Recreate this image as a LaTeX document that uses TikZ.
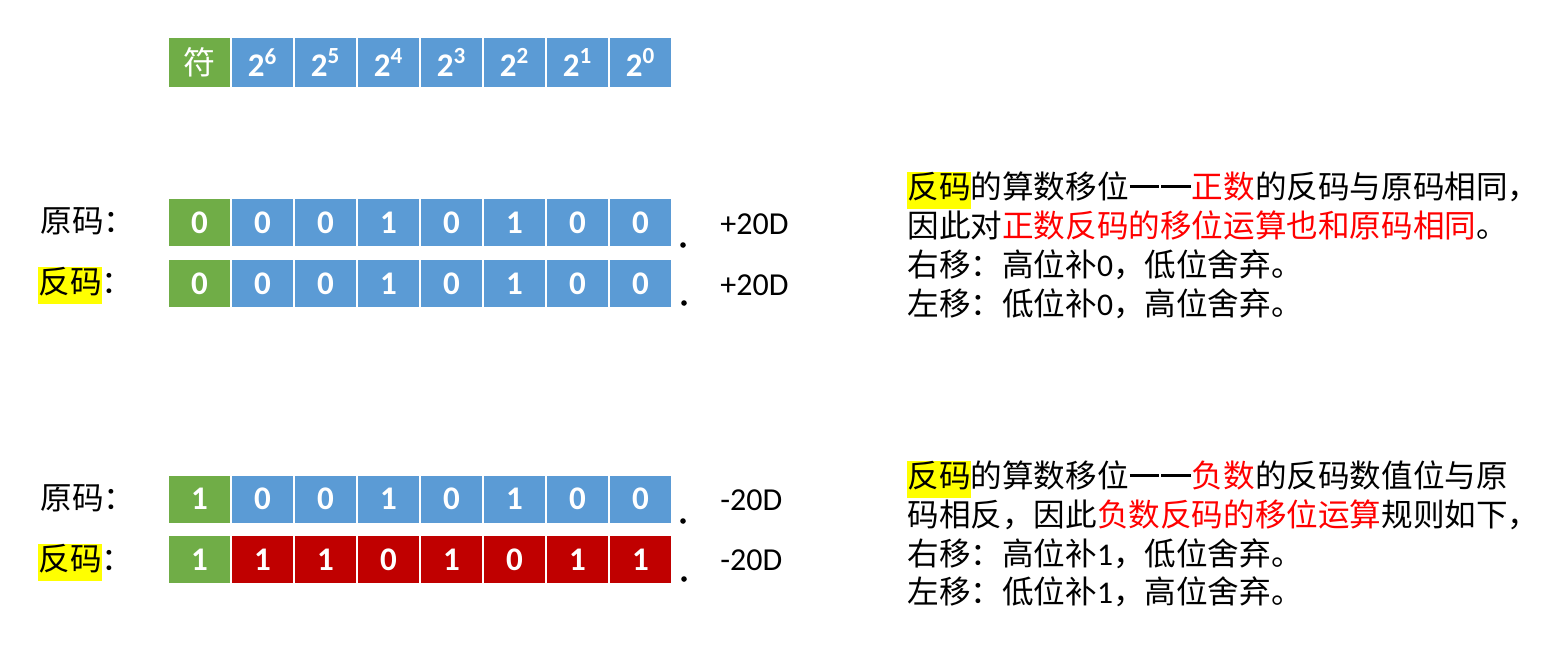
\documentclass[tikz,border=0pt]{standalone}
\usepackage{fontspec}
\setmainfont{Carlito}
\newfontfamily\cjk{Noto Sans CJK SC}
\definecolor{cgreen}{HTML}{70AD47}
\definecolor{cblue}{HTML}{5B9BD5}
\definecolor{cred}{HTML}{C00000}
\definecolor{hl}{HTML}{FFFF00}
\definecolor{tred}{HTML}{FF0000}
\setlength{\fboxsep}{0pt}
\newcommand\mybitrow[5]{%
  \node[cell,fill=cgreen] (#1-0) at (199.5,#2) {#4};
  \foreach \b [count=\i] in {#5} \node[cell,fill=#3] (#1-\i) at (199.5+63*\i,#2) {\b};
}
\newcommand\mydash{\makebox[1em][c]{\rule[0.32em]{0.92em}{0.09em}}}
\begin{document}
\begin{tikzpicture}[x=0.5pt,y=-0.5pt,
  cell/.style={minimum width=30.5pt,minimum height=23.5pt,inner sep=0pt,text=white,font=\fontsize{16.5}{18}\selectfont\bfseries},
  hcell/.style={cell,minimum height=24.5pt},
  lbl/.style={anchor=base west,inner sep=0pt,font=\cjk\fontsize{15.8}{18.6}\selectfont},
  txt/.style={anchor=base west,inner sep=0pt,font=\cjk\fontsize{15.8}{18.6}\selectfont},
  val/.style={anchor=west,inner sep=0pt,font=\fontsize{16}{18}\selectfont},
  dotn/.style={circle,fill=black,inner sep=0pt,minimum size=2.8pt}]
\useasboundingbox (0,0) rectangle (1546,644);
% header
\node[hcell,fill=cgreen,font=\cjk\fontsize{16}{18}\selectfont] (h0) at (199.5,62.5) {符};
\foreach \e [count=\i] in {6,5,4,3,2,1,0}
  \node[hcell,fill=cblue] (h\i) at (199.5+63*\i,62.5) {2\textsuperscript{\e}};
% rows
\mybitrow{r1}{222.5}{cblue}{0}{0,0,1,0,1,0,0}
\mybitrow{r2}{283.5}{cblue}{0}{0,0,1,0,1,0,0}
\mybitrow{r3}{499}{cblue}{1}{0,0,1,0,1,0,0}
\mybitrow{r4}{559.5}{cred}{1}{1,1,0,1,0,1,1}
% labels
\node[lbl] (l1) at (40,232) {原码：};
\node[lbl] (l2) at (38,293) {\colorbox{hl}{\strut 反码}：};
\node[lbl] (l3) at (40,509) {原码：};
\node[lbl] (l4) at (38,570) {\colorbox{hl}{\strut 反码}：};
% values
\node[val] (v1) at (720,224) {+20D};
\node[val] (v2) at (720,285) {+20D};
\node[val] (v3) at (720,500) {-20D};
\node[val] (v4) at (720,560) {-20D};
% dots
\node[dotn] (d1) at (683,245) {};
\node[dotn] (d2) at (684,303) {};
\node[dotn] (d3) at (683,521) {};
\node[dotn] (d4) at (684,579) {};
% text block 1
\node[txt] (a1) at (907,198) {\colorbox{hl}{\strut 反码}的算数移位\mydash\mydash\textcolor{tred}{正数}的反码与原码相同，};
\node[txt] (a2) at (907,237) {因此对\textcolor{tred}{正数反码的移位运算也和原码相同}。};
\node[txt] (a3) at (907,276) {右移：高位补{\rmfamily 0}，低位舍弃。};
\node[txt] (a4) at (907,315) {左移：低位补{\rmfamily 0}，高位舍弃。};
% text block 2
\node[txt] (b1) at (907,487) {\colorbox{hl}{\strut 反码}的算数移位\mydash\mydash\textcolor{tred}{负数}的反码数值位与原};
\node[txt] (b2) at (907,526) {码相反，因此\textcolor{tred}{负数反码的移位运算}规则如下，};
\node[txt] (b3) at (907,565) {右移：高位补{\rmfamily 1}，低位舍弃。};
\node[txt] (b4) at (907,603) {左移：低位补{\rmfamily 1}，高位舍弃。};
\end{tikzpicture}
\end{document}
